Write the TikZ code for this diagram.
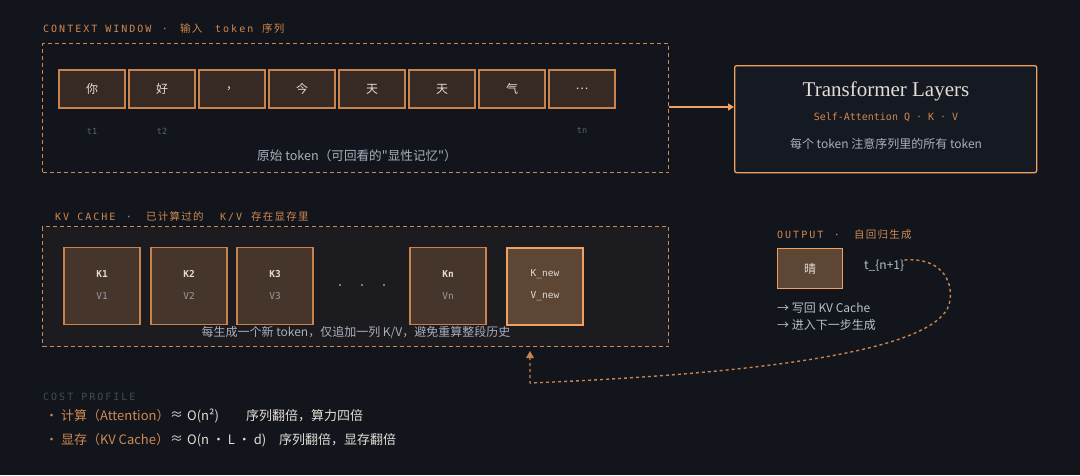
\documentclass[tikz,border=0pt]{standalone}
\usepackage{fontspec}
\setmainfont{Noto Sans CJK SC}
\newfontfamily\cjkf{Noto Sans CJK SC}
\newfontfamily\monof{DejaVu Sans Mono}
\newfontfamily\monosp[LetterSpace=20]{DejaVu Sans Mono}
\newfontfamily\cjksp[LetterSpace=12]{Noto Sans CJK SC}
\newfontfamily\seriff{Liberation Serif}
\usetikzlibrary{arrows.meta}
\definecolor{bg}{HTML}{12151C}
\definecolor{kvbg}{HTML}{1C1B1F}
\definecolor{org}{HTML}{D08850}
\definecolor{orgl}{HTML}{F0A060}
\definecolor{tokfill}{HTML}{372A25}
\definecolor{tokedge}{HTML}{C8824C}
\definecolor{kvfill}{HTML}{45352B}
\definecolor{newfill}{HTML}{5E4634}
\definecolor{txt}{HTML}{E2DDD6}
\definecolor{gray1}{HTML}{A8AFBC}
\definecolor{gray2}{HTML}{5C6372}
\definecolor{gray3}{HTML}{444A58}
\definecolor{vgray}{HTML}{9A9AA2}
\definecolor{tfbg}{HTML}{151922}
\tikzset{
  dashbox/.style={draw=org, line width=1.1pt, dash pattern=on 4pt off 3pt, anchor=north west, inner sep=0pt},
  tokbox/.style={draw=tokedge, fill=tokfill, line width=1.2pt, minimum width=66pt, minimum height=38pt, inner sep=0pt, text=txt, font=\cjkf\fontsize{12}{14}\selectfont},
  kvbox/.style={draw=tokedge, fill=kvfill, line width=1.2pt, minimum width=76pt, minimum height=77pt, inner sep=0pt},
  newbox/.style={draw=orgl, fill=newfill, line width=2pt, minimum width=76pt, minimum height=77pt, inner sep=0pt},
  ktext/.style={text=txt, font=\monof\bfseries\fontsize{9.5}{11}\selectfont},
  vtext/.style={text=vgray, font=\monof\fontsize{9.5}{11}\selectfont},
  tlab/.style={text=gray2, font=\monof\fontsize{8.5}{10}\selectfont},
  sectitle/.style={text=org, anchor=base west, inner sep=0pt, font=\monosp\fontsize{10}{12}\selectfont},
  seccjk/.style={text=org, anchor=base west, inner sep=0pt, font=\cjksp\fontsize{10.5}{12}\selectfont},
  secdot/.style={text=org, anchor=base, inner sep=0pt, font=\monof\fontsize{10}{12}\selectfont},
  caption/.style={text=gray1, font=\cjkf\fontsize{12}{14}\selectfont, inner sep=0pt},
  cost/.style={anchor=west, inner sep=0pt, text=txt, font=\cjkf\fontsize{13}{15}\selectfont},
  outtxt/.style={text=gray1!80!white, font=\cjkf\fontsize{12}{14}\selectfont, anchor=west, inner sep=0pt},
  loop/.style={draw=tokedge, line width=1.4pt, dash pattern=on 3pt off 3pt},
}
\begin{document}
\begin{tikzpicture}[x=1pt,y=-1pt]
\fill[bg] (0,0) rectangle (1080,475);
\useasboundingbox (0,0) rectangle (1080,475);

% context window
\node[sectitle] (ctxt1) at (43,32) {CONTEXT WINDOW};
\node[secdot] (ctxt2) at (165,32) {·};
\node[seccjk] (ctxt3) at (180,32) {输入};
\node[sectitle] (ctxt4) at (215,32) {token};
\node[seccjk] (ctxt5) at (262,32) {序列};
\node[dashbox, minimum width=626pt, minimum height=129pt] (ctx) at (42,43) {};
\node[tokbox] (t1) at (92,89) {你};
\node[tokbox] (t2) at (162,89) {好};
\node[tokbox] (t3) at (232,89) {，};
\node[tokbox] (t4) at (302,89) {今};
\node[tokbox] (t5) at (372,89) {天};
\node[tokbox] (t6) at (442,89) {天};
\node[tokbox] (t7) at (512,89) {气};
\node[tokbox] (t8) at (582,89) {…};
\node[tlab] (l1) at (92,131) {t1};
\node[tlab] (l2) at (162,131) {t2};
\node[tlab] (l8) at (582,131) {tn};
\node[caption, font=\cjkf\fontsize{12.6}{14}\selectfont] (ctxcap) at (357,156) {原始 token（可回看的"显性记忆"）};

% transformer
\node[draw=orgl, fill=tfbg, line width=1.3pt, rounded corners=2pt, minimum width=302pt, minimum height=107pt, anchor=north west, inner sep=0pt] (tf) at (734,65) {};
\node[text=txt, font=\seriff\fontsize{21}{24}\selectfont] (tft) at (886,91) {Transformer Layers};
\node[text=org, font=\monof\fontsize{10}{12}\selectfont] (tfs) at (886,117) {Self-Attention Q · K · V};
\node[caption] (tfc) at (886,144) {每个 token 注意序列里的所有 token};
\draw[draw=orgl, line width=1.3pt, -{Triangle[length=6pt,width=7pt]}] (ctx.east |- 0,107) -- (tf.west |- 0,107);

% KV cache
\node[sectitle] (kvt1) at (55,220) {KV CACHE};
\node[secdot] (kvt2) at (129,220) {·};
\node[seccjk] (kvt3) at (146,220) {已计算过的};
\node[sectitle] (kvt4) at (220,220) {K/V};
\node[seccjk] (kvt5) at (251,220) {存在显存里};
\node[dashbox, fill=kvbg, minimum width=626pt, minimum height=120pt] (kv) at (42,226) {};
\node[kvbox] (k1) at (102,286) {};
\node[kvbox] (k2) at (189,286) {};
\node[kvbox] (k3) at (275,286) {};
\node[kvbox] (kn) at (448,286) {};
\node[newbox] (knew) at (545,286) {};
\foreach \n/\x/\k/\v in {a/102/K1/V1, b/189/K2/V2, c/275/K3/V3, d/448/Kn/Vn} {
  \node[ktext] (k\n) at (\x,274) {\k};
  \node[vtext] (v\n) at (\x,296) {\v};
}
\node[ktext, font=\monof\fontsize{9.5}{11}\selectfont] (knk) at (545,274) {K\_new};
\node[ktext, font=\monof\fontsize{9.5}{11}\selectfont] (knv) at (545,296) {V\_new};
\foreach \x in {340,362,384} \fill[vgray] (\x,285) circle (1.2pt);
\node[caption] (kvcap) at (356,332) {每生成一个新 token，仅追加一列 K/V，避免重算整段历史};

% output
\node[sectitle] (outt1) at (777,238) {OUTPUT};
\node[secdot] (outt2) at (837,238) {·};
\node[seccjk] (outt3) at (854,238) {自回归生成};
\node[draw=orgl, fill=newfill, line width=1.3pt, minimum width=65pt, minimum height=40pt, anchor=north west, inner sep=0pt] (qing) at (777,248) {};
\node[text=txt, font=\cjkf\fontsize{12}{14}\selectfont] (qingt) at (qing.center) {晴};
\node[outtxt] (tn1) at (864,266) {t\_\{n+1\}};
\node[outtxt] (o1) at (777,308) {→ 写回 KV Cache};
\node[outtxt] (o2) at (777,325) {→ 进入下一步生成};
\coordinate (lp) at (530,383);
\coordinate (lpend) at (530,353);
\draw[loop] (tn1.north east) .. controls (940,257) and (953,280) .. (950,300)
  .. controls (946,345) and (800,372) .. (lp) -- (lpend);
\fill[tokedge] (lpend) ++(0,-2) -- ++(-4,7) -- ++(8,0) -- cycle;

% cost profile
\node[sectitle, text=gray3] (cost) at (43,400) {COST PROFILE};
\node[cost, text=org] (c1) at (45,416) {· 计算（Attention）};
\node[cost] (c1a) at (170,416) {≈};
\node[cost] (c1b) at (187,416) {O(n²)};
\node[cost] (c1c) at (246,416) {序列翻倍，算力四倍};
\node[cost, text=org] (c2) at (45,440) {· 显存（KV Cache）};
\node[cost] (c2a) at (170,440) {≈};
\node[cost] (c2b) at (187,440) {O(n · L · d)};
\node[cost] (c2c) at (279,440) {序列翻倍，显存翻倍};
\end{tikzpicture}
\end{document}
